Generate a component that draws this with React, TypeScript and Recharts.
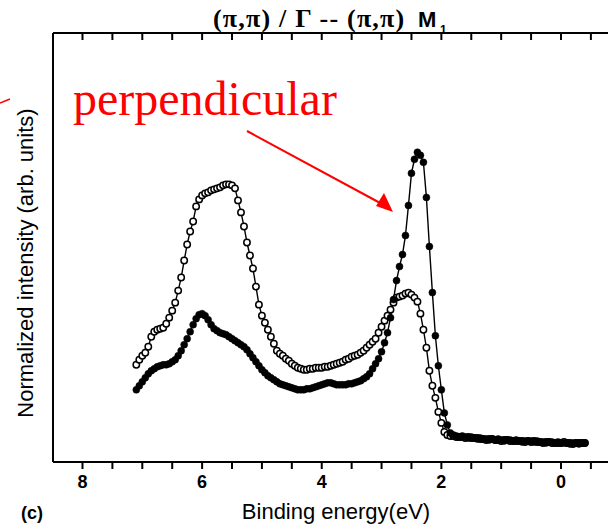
import { LineChart, Line, XAxis, YAxis } from 'recharts'

// ---- data (binding energy in eV, intensity in arb. units) ----
const energy = [
  7.1, 7.05, 7.0, 6.95, 6.9, 6.85, 6.8, 6.75, 6.7, 6.65, 6.6, 6.55,
  6.5, 6.45, 6.4, 6.35, 6.3, 6.25, 6.2, 6.15, 6.1, 6.05, 6.0, 5.95,
  5.9, 5.85, 5.8, 5.75, 5.7, 5.65, 5.6, 5.55, 5.5, 5.45, 5.4, 5.35,
  5.3, 5.25, 5.2, 5.15, 5.1, 5.05, 5.0, 4.95, 4.9, 4.85, 4.8, 4.75,
  4.7, 4.65, 4.6, 4.55, 4.5, 4.45, 4.4, 4.35, 4.3, 4.25, 4.2, 4.15,
  4.1, 4.05, 4.0, 3.95, 3.9, 3.85, 3.8, 3.75, 3.7, 3.65, 3.6, 3.55,
  3.5, 3.45, 3.4, 3.35, 3.3, 3.25, 3.2, 3.15, 3.1, 3.05, 3.0, 2.95,
  2.9, 2.85, 2.8, 2.75, 2.7, 2.65, 2.6, 2.55, 2.5, 2.45, 2.4, 2.35,
  2.3, 2.25, 2.2, 2.15, 2.1, 2.05, 2.0, 1.95, 1.9, 1.85, 1.8, 1.75,
  1.7, 1.65, 1.6, 1.55, 1.5, 1.45, 1.4, 1.35, 1.3, 1.25, 1.2, 1.15,
  1.1, 1.05, 1.0, 0.95, 0.9, 0.85, 0.8, 0.75, 0.7, 0.65, 0.6, 0.55,
  0.5, 0.45, 0.4, 0.35, 0.3, 0.25, 0.2, 0.15, 0.1, 0.05, 0.0, -0.05,
  -0.1, -0.15, -0.2, -0.25, -0.3, -0.35, -0.4,
]

// perpendicular (filled circles)
const perpendicular = [
  72, 76, 80, 84, 88, 91, 93, 95, 96, 97, 97, 98,
  100, 102, 106, 111, 117, 123, 130, 137, 143, 147, 148, 146,
  142, 137, 133, 131, 129, 128, 127, 125, 123, 121, 119, 117,
  115, 112, 108, 104, 100, 96, 92, 89, 86, 84, 82, 80,
  78, 77, 76, 75, 74, 73, 72, 72, 72, 73, 73, 74,
  75, 76, 77, 78, 79, 79, 78, 77, 77, 77, 77, 78,
  78, 79, 80, 81, 83, 85, 88, 93, 98, 103, 110, 119,
  129, 144, 162, 181, 195, 207, 226, 256, 288, 302, 309, 306,
  299, 264, 215, 169, 126, 96, 72, 49, 37, 29, 27, 26,
  25, 26, 25, 24, 25, 24, 23, 24, 23, 23, 22, 23,
  22, 23, 22, 21, 22, 22, 21, 22, 21, 20, 21, 21,
  21, 20, 21, 20, 20, 19, 20, 20, 19, 20, 19, 19,
  19, 18, 19, 19, 18, 19, 19,
]

// parallel (open circles)
const parallel = [
  97, 102, 106, 109, 115, 125, 130, 132, 133, 134, 138, 144,
  151, 159, 171, 184, 201, 217, 230, 240, 255, 262, 266, 268,
  269, 271, 272, 273, 274, 276, 277, 277, 276, 273, 261, 249,
  235, 219, 206, 193, 175, 157, 146, 139, 132, 125, 118, 111,
  108, 106, 103, 101, 98, 96, 94, 93, 92, 92, 93, 93,
  94, 94, 94, 95, 95, 96, 97, 98, 99, 100, 102, 103,
  105, 106, 107, 109, 111, 114, 117, 120, 123, 129, 135, 141,
  146, 152, 159, 164, 165, 166, 168, 169, 167, 164, 160, 148,
  132, 114, 91, 76, 64, 50, 39, 30, 27, 26, 26, 25,
  25, 25, 24, 25, 24, 24, 24, 23, 23, 22, 23, 23,
  22, 22, 21, 22, 22, 21, 21, 21, 21, 21, 20, 21,
  20, 21, 20, 20, 19, 20, 20, 19, 19, 19, 19, 20,
  19, 19, 18, 19, 19, 19, 19,
]

const xTicks = [8, 7.5, 7, 6.5, 6, 5.5, 5, 4.5, 4, 3.5, 3, 2.5, 2, 1.5, 1, 0.5, 0, -0.5]

const perpData = energy.map((e, i) => ({ e, v: perpendicular[i] }))
const paraData = energy.map((e, i) => ({ e, v: parallel[i] }))

const SANS = '"Liberation Sans", Arial, sans-serif'
const SERIF = '"Liberation Serif", "Times New Roman", serif'

// label only on the even ticks; y arrives below the tick line
function BottomLabel(props: any) {
  const { x, y, payload } = props
  if (payload.value % 2 !== 0) return <g />
  return (
    <text x={x} y={y + 19} textAnchor="middle" fontFamily={SANS} fontWeight="bold" fontSize={18} fill="#000">
      {payload.value}
    </text>
  )
}

const NoLabel = () => <g />

export default function App() {
  return (
    <div style={{ position: 'absolute', left: 0, top: 0, width: 608, height: 527, background: '#fff', overflow: 'hidden' }}>
      <LineChart width={608} height={527} margin={{ top: 33, right: 0, bottom: 0, left: 52 }}>
        <XAxis
          dataKey="e"
          type="number"
          domain={[-0.786, 8.493]}
          reversed
          allowDataOverflow
          ticks={xTicks}
          interval={0}
          height={65}
          tickSize={7}
          tickMargin={0}
          tickLine={{ stroke: '#000', strokeWidth: 2 }}
          tick={<BottomLabel />}
          axisLine={{ stroke: '#000', strokeWidth: 2 }}
        />
        {/* top frame, mirrored so its ticks point into the plot */}
        <XAxis
          xAxisId="top"
          orientation="top"
          mirror
          dataKey="e"
          type="number"
          domain={[-0.786, 8.493]}
          reversed
          allowDataOverflow
          ticks={xTicks}
          interval={0}
          height={1}
          tickSize={7}
          tickMargin={0}
          tickLine={{ stroke: '#000', strokeWidth: 2 }}
          tick={<NoLabel />}
          axisLine={{ stroke: '#000', strokeWidth: 2 }}
        />
        <YAxis
          type="number"
          domain={[0, 428]}
          width={1}
          tick={false}
          tickLine={false}
          axisLine={{ stroke: '#000', strokeWidth: 2 }}
        />
        <Line
          data={paraData}
          xAxisId="top"
          dataKey="v"
          type="linear"
          stroke="#000"
          strokeWidth={1.4}
          dot={{ r: 3.2, fill: '#fff', stroke: '#000', strokeWidth: 1.5 }}
          activeDot={false}
          isAnimationActive={false}
        />
        <Line
          data={perpData}
          dataKey="v"
          type="linear"
          stroke="#000"
          strokeWidth={1.4}
          dot={{ r: 3.5, fill: '#000', stroke: '#000', strokeWidth: 0.5 }}
          activeDot={false}
          isAnimationActive={false}
        />
      </LineChart>

      <svg width={608} height={527} style={{ position: 'absolute', left: 0, top: 0, pointerEvents: 'none' }}>
        <text x={213} y={27} fontFamily={SERIF} fontWeight="bold" fontSize={26} letterSpacing={1.2} fill="#000">
          (π,π) / Γ -- (π,π)
        </text>
        <text x={418} y={27} fontFamily={SANS} fontWeight="bold" fontSize={22} fill="#000">
          M
        </text>
        <text x={440} y={34} fontFamily={SANS} fontWeight="bold" fontSize={12} fill="#000">
          1
        </text>

        <text x={73} y={115} fontFamily={SERIF} fontSize={48} fill="#ff0000">
          perpendicular
        </text>
        <line x1={247} y1={131} x2={382} y2={204} stroke="#ff0000" strokeWidth={2} />
        <polygon points="393,212 376,206 384,193" fill="#ff0000" />
        <line x1={0} y1={103} x2={10} y2={99} stroke="#ff0000" strokeWidth={1.5} />

        <text
          x={33}
          y={263}
          transform="rotate(-90 33 263)"
          textAnchor="middle"
          fontFamily={SANS}
          fontSize={22}
          fill="#000"
        >
          Normalized intensity (arb. units)
        </text>
        <text x={336} y={519} textAnchor="middle" fontFamily={SANS} fontSize={22} fill="#000">
          Binding energy(eV)
        </text>
        <text x={21} y={519} fontFamily={SANS} fontWeight="bold" fontSize={18} fill="#000">
          (c)
        </text>
      </svg>
    </div>
  )
}
